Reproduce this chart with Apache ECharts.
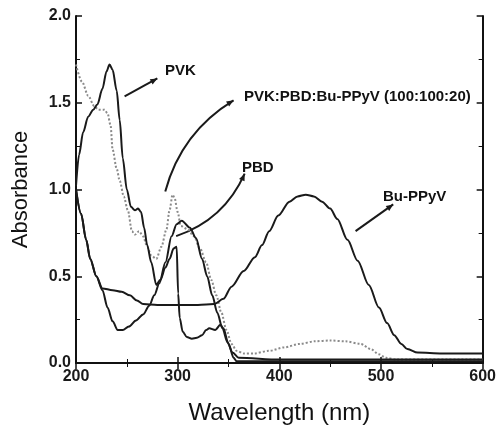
<!DOCTYPE html>
<html>
<head>
<meta charset="utf-8">
<script src="https://cdn.jsdelivr.net/npm/echarts@6/dist/echarts.min.js"></script>
<style>
  html, body { margin: 0; padding: 0; background: #fff; }
  #chart { width: 499px; height: 430px; }
</style>
</head>
<body>
<div id="chart"></div>
<script>
// absorption spectra (wavelength nm / absorbance)
const pvkWl  = [200, 203, 207, 212, 217, 221, 226, 230, 233, 236, 240, 243, 246, 250, 254, 258, 261, 264, 267, 270, 274, 279, 283, 288, 292, 296, 299, 300.5, 302, 305, 309, 314, 319, 324, 328, 331, 337, 342, 345, 350, 355, 358, 600]
const pvkAbs = [1.02, 1.2, 1.33, 1.42, 1.46, 1.49, 1.58, 1.68, 1.72, 1.69, 1.57, 1.40, 1.18, 1.00, 0.90, 0.88, 0.89, 0.87, 0.78, 0.68, 0.58, 0.45, 0.48, 0.55, 0.60, 0.66, 0.67, 0.40, 0.26, 0.18, 0.15, 0.14, 0.145, 0.16, 0.19, 0.20, 0.19, 0.22, 0.20, 0.11, 0.03, 0.01, 0.01]

const pbdWl  = [200, 205, 210, 214, 220, 226, 231, 236, 241, 246, 252, 259, 266, 272, 277, 282, 288, 294, 299, 304, 312, 318, 324, 329, 334, 339, 344, 349, 354, 360, 400, 600]
const pbdAbs = [1.0, 0.86, 0.71, 0.60, 0.50, 0.42, 0.32, 0.24, 0.19, 0.19, 0.21, 0.245, 0.28, 0.33, 0.39, 0.46, 0.58, 0.73, 0.80, 0.82, 0.78, 0.72, 0.60, 0.50, 0.39, 0.29, 0.20, 0.12, 0.06, 0.03, 0.02, 0.02]

const buWl  = [200, 205, 210, 214, 220, 226, 236, 245, 253, 260, 266, 280, 300, 320, 336, 345, 353, 365, 376, 383, 390, 399, 410, 418, 426, 434, 442, 450, 457, 467, 477, 488, 498, 506, 513, 520, 526, 536, 560, 600]
const buAbs = [1.0, 0.86, 0.71, 0.60, 0.50, 0.43, 0.42, 0.41, 0.39, 0.36, 0.34, 0.335, 0.335, 0.335, 0.34, 0.37, 0.44, 0.53, 0.61, 0.68, 0.76, 0.85, 0.93, 0.96, 0.97, 0.96, 0.93, 0.89, 0.83, 0.71, 0.59, 0.45, 0.32, 0.23, 0.16, 0.11, 0.08, 0.06, 0.055, 0.055]

const blendWl  = [200, 206, 212, 218, 222, 228, 231, 234, 236, 240, 243, 247, 251, 255, 258, 262, 266, 270, 274, 279, 284, 289, 292, 295, 297, 300, 303, 310, 316, 322, 328, 333, 338, 343, 348, 353, 358, 365, 375, 390, 405, 420, 435, 450, 465, 480, 490, 498, 505, 515, 600]
const blendAbs = [1.72, 1.62, 1.54, 1.48, 1.46, 1.46, 1.44, 1.37, 1.23, 1.12, 1.05, 0.96, 0.88, 0.76, 0.74, 0.76, 0.73, 0.67, 0.62, 0.60, 0.67, 0.77, 0.88, 0.97, 0.95, 0.87, 0.79, 0.77, 0.73, 0.66, 0.58, 0.48, 0.39, 0.29, 0.19, 0.11, 0.07, 0.055, 0.055, 0.07, 0.09, 0.11, 0.125, 0.13, 0.125, 0.11, 0.08, 0.05, 0.03, 0.02, 0.02]

const xTicks = [200, 300, 400, 500, 600]
const yTicks = [0, 0.5, 1.0, 1.5, 2.0]

// annotation arrows: [from, to, curveness] in data units
const pointers = [
  [[247.8, 1.537], [280, 1.64], 0],
  [[287.8, 0.989], [355, 1.514], 0.2],
  [[298.5, 0.731], [365.9, 1.091], -0.22],
  [[475, 0.76], [512, 0.914], 0]
]

const font = '"Liberation Sans", Arial, sans-serif'

function pairs(xs, ys) {
  return xs.map((x, i) => [x, ys[i]])
}

const chart = echarts.init(document.getElementById('chart'), null, { renderer: 'canvas' })

const axisLine = { lineStyle: { color: '#111', width: 2 } }
const tick = { inside: true, length: 6, lineStyle: { color: '#111', width: 1.5 } }
const minor = { show: true, splitNumber: 2, length: 4, lineStyle: { color: '#111' } }

chart.setOption({
  backgroundColor: '#fff',
  animation: false,
  grid: { left: 76, right: 13, top: 16, bottom: 64 },
  xAxis: [{
    type: 'value',
    min: xTicks[0],
    max: xTicks[xTicks.length - 1],
    interval: 100,
    name: 'Wavelength (nm)',
    nameLocation: 'middle',
    nameGap: 38,
    nameTextStyle: { fontFamily: font, fontSize: 24, color: '#111' },
    axisLine: axisLine,
    axisTick: tick,
    minorTick: minor,
    axisLabel: { fontFamily: font, fontSize: 16, fontWeight: 'bold', color: '#1a1a1a', margin: 6 },
    splitLine: { show: false }
  }, {
    type: 'value',
    position: 'top',
    min: 200, max: 600, interval: 100,
    axisLine: axisLine,
    axisTick: tick,
    minorTick: minor,
    axisLabel: { show: false },
    splitLine: { show: false }
  }],
  yAxis: [{
    type: 'value',
    min: yTicks[0],
    max: yTicks[yTicks.length - 1],
    interval: 0.5,
    name: 'Absorbance',
    nameLocation: 'middle',
    nameGap: 44,
    nameTextStyle: { fontFamily: font, fontSize: 22, color: '#111' },
    axisLine: axisLine,
    axisTick: tick,
    minorTick: minor,
    axisLabel: {
      fontFamily: font, fontSize: 16, fontWeight: 'bold', color: '#1a1a1a', margin: 5,
      formatter: v => v.toFixed(1)
    },
    splitLine: { show: false }
  }, {
    type: 'value',
    position: 'right',
    min: 0, max: 2, interval: 0.5,
    axisLine: axisLine,
    axisTick: tick,
    minorTick: minor,
    axisLabel: { show: false },
    splitLine: { show: false }
  }],
  series: [
    {
      name: 'PVK:PBD:Bu-PPyV (100:100:20)',
      type: 'line',
      data: pairs(blendWl, blendAbs),
      smooth: 0.3,
      smoothMonotone: 'x',
      showSymbol: false,
      lineStyle: { color: '#8a8a8a', width: 2, type: [2, 2] }
    },
    {
      name: 'PVK',
      type: 'line',
      data: pairs(pvkWl, pvkAbs),
      smooth: 0.3,
      smoothMonotone: 'x',
      showSymbol: false,
      lineStyle: { color: '#1a1a1a', width: 2 }
    },
    {
      name: 'PBD',
      type: 'line',
      data: pairs(pbdWl, pbdAbs),
      smooth: 0.3,
      smoothMonotone: 'x',
      showSymbol: false,
      lineStyle: { color: '#1a1a1a', width: 2 }
    },
    {
      name: 'Bu-PPyV',
      type: 'line',
      data: pairs(buWl, buAbs),
      smooth: 0.3,
      smoothMonotone: 'x',
      showSymbol: false,
      lineStyle: { color: '#1a1a1a', width: 2 }
    }
  ]
})

// labels and curved pointers, placed through the chart's own scales
const labels = [
  ['PVK', 165, 63],
  ['PVK:PBD:Bu-PPyV (100:100:20)', 244, 89],
  ['PBD', 242, 160],
  ['Bu-PPyV', 383, 189]
]

const graphics = labels.map(l => ({
  type: 'text', left: l[1], top: l[2],
  style: { text: l[0], font: 'bold 15px ' + font, fill: '#111' }
}))

pointers.forEach(p => {
  const a = chart.convertToPixel({ gridIndex: 0 }, p[0])
  const b = chart.convertToPixel({ gridIndex: 0 }, p[1])
  const c = p[2]
  const cx = (a[0] + b[0]) / 2 - (a[1] - b[1]) * c
  const cy = (a[1] + b[1]) / 2 - (b[0] - a[0]) * c
  graphics.push({
    type: 'bezierCurve',
    shape: { x1: a[0], y1: a[1], x2: b[0], y2: b[1], cpx1: cx, cpy1: cy },
    style: { stroke: '#1a1a1a', lineWidth: 2, fill: null }
  })
  // small head at the label end
  const ang = Math.atan2(b[1] - cy, b[0] - cx)
  const len = 7, half = 3
  const bx = b[0] - Math.cos(ang) * len, by = b[1] - Math.sin(ang) * len
  graphics.push({
    type: 'polygon',
    shape: { points: [
      [b[0], b[1]],
      [bx - Math.sin(ang) * half, by + Math.cos(ang) * half],
      [bx + Math.sin(ang) * half, by - Math.cos(ang) * half]
    ] },
    style: { fill: '#1a1a1a' }
  })
})

chart.setOption({ graphic: graphics })
</script>
</body>
</html>
